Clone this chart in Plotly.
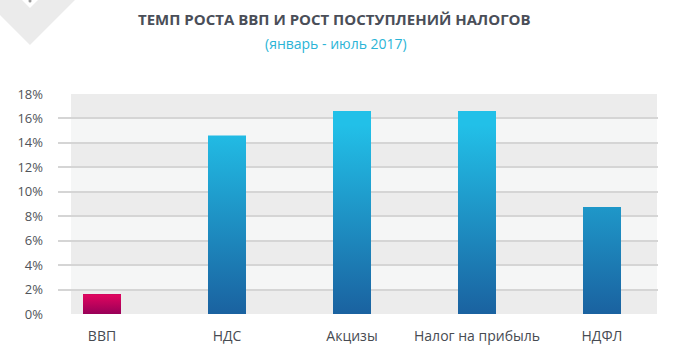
import plotly.graph_objects as go

# ---- data ----
categories = ["ВВП", "НДС", "Акцизы", "Налог на прибыль", "НДФЛ"]
values = [1.6, 14.6, 16.6, 16.6, 8.75]
y_ticks = [0, 2, 4, 6, 8, 10, 12, 14, 16, 18]
y_tick_labels = ["0%", "2%", "4%", "6%", "8%", "10%", "12%", "14%", "16%", "18%"]
title_text = "ТЕМП РОСТА ВВП И РОСТ ПОСТУПЛЕНИЙ НАЛОГОВ"
subtitle_text = "(январь - июль 2017)"

# ---- layout constants ----
W, H = 681, 361
L, R, T, B = 58, 23, 94, 47
PW, PH = W - L - R, H - T - B
BAR_W = 0.304
FONT = "Open Sans"

def px_x(px):
    return (px - L) / PW

def px_y(py):
    return (H - B - py) / PH

xs = list(range(len(categories)))

fig = go.Figure()

# base bars (solid), overlaid by gradient fills
base_colors = ["#c00a5d"] + ["#1e8fc5"] * (len(categories) - 1)
fig.add_trace(go.Bar(x=xs, y=values, width=BAR_W, marker=dict(color=base_colors, line=dict(width=0)),
                     showlegend=False, hoverinfo="skip"))

blue_scale = [[0, "#1a62a0"], [1, "#22c0e8"]]
red_scale = [[0, "#980058"], [1, "#e2055f"]]
for i, v in zip(xs, values):
    scale = red_scale if i == 0 else blue_scale
    stop = v if i == 0 else 15.5
    fig.add_trace(go.Scatter(
        x=[i - BAR_W / 2, i + BAR_W / 2, i + BAR_W / 2, i - BAR_W / 2, i - BAR_W / 2],
        y=[0, 0, v, v, 0],
        mode="lines", line=dict(width=0), fill="toself",
        fillgradient=dict(type="vertical", colorscale=scale, start=0, stop=stop),
        showlegend=False, hoverinfo="skip"))

# alternating background bands
shapes = []
band_x0, band_x1 = -0.248, 4.44
for k in range(len(y_ticks) - 1):
    shapes.append(dict(type="rect", xref="x", yref="y", x0=band_x0, x1=band_x1,
                       y0=y_ticks[k], y1=y_ticks[k + 1], layer="below",
                       line=dict(width=0), fillcolor="#ececec" if k % 2 == 0 else "#f5f6f6"))

# decorative chevron top-left
pts = [(-5, -5), (22, -5), (22, 0), (30, 8), (38, 0), (75, 0), (30, 45), (-5, 10)]
path = "M " + " L ".join(f"{px_x(a):.5f},{px_y(b):.5f}" for a, b in pts) + " Z"
shapes.append(dict(type="path", xref="paper", yref="paper", path=path,
                   fillcolor="#ebebeb", line=dict(width=0), layer="above"))
shapes.append(dict(type="circle", xref="paper", yref="paper",
                   x0=px_x(28.5), x1=px_x(31.5), y0=px_y(2.5), y1=px_y(-0.5),
                   fillcolor="#9a9a9a", line=dict(width=0)))

fig.update_layout(
    width=W, height=H,
    margin=dict(l=L, r=R, t=T, b=B),
    paper_bgcolor="white", plot_bgcolor="white",
    shapes=shapes,
    bargap=0,
    annotations=[
        dict(text=f"<b>{title_text}</b>", xref="paper", yref="paper", x=px_x(334.5), y=px_y(19),
             xanchor="center", yanchor="middle", showarrow=False,
             font=dict(family=FONT, size=15, color="#4a4e58")),
        dict(text=subtitle_text, xref="paper", yref="paper", x=px_x(336), y=px_y(44),
             xanchor="center", yanchor="middle", showarrow=False,
             font=dict(family=FONT, size=14, color="#2ab4d6")),
    ],
    xaxis=dict(range=[-0.352, 4.448], tickmode="array", tickvals=xs, ticktext=categories,
               showgrid=False, zeroline=False, showline=False, ticks="",
               ticklabelstandoff=12,
               tickfont=dict(family=FONT, size=14, color="#474b52"), fixedrange=True),
    yaxis=dict(range=[0, 18], tickmode="array", tickvals=y_ticks, ticktext=y_tick_labels,
               showgrid=True, gridcolor="#d5d5d5", gridwidth=1.5, zeroline=False,
               showline=False, ticks="", ticklabelstandoff=14,
               tickfont=dict(family=FONT, size=13, color="#505459"), fixedrange=True),
)

fig.write_html("out.html", config={"displayModeBar": False},
               post_script="document.body.style.margin='0';document.body.style.padding='0';")
